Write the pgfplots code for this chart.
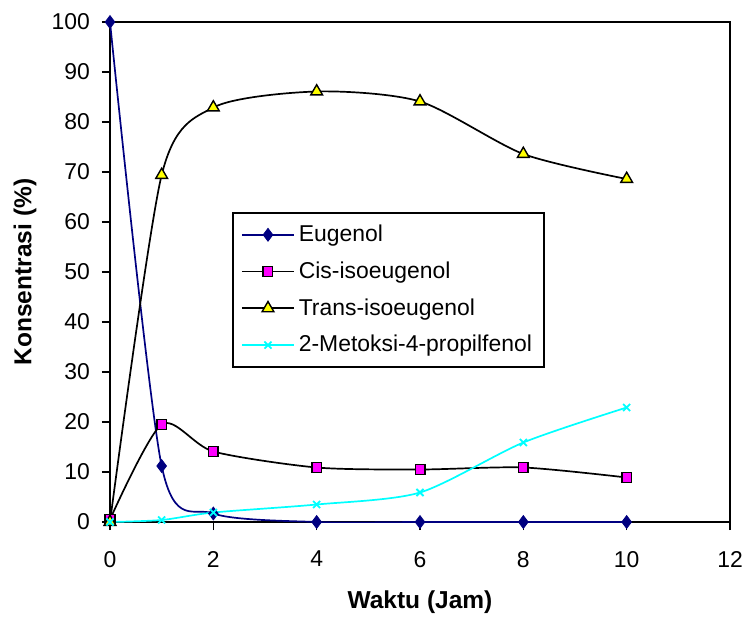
\documentclass[border=0pt]{standalone}
\usepackage{fontspec}
\setmainfont{Liberation Sans}
\usepackage{pgfplots}
\pgfplotsset{compat=1.18}

\definecolor{navyblue}{RGB}{0,0,128}
\definecolor{xlcyan}{RGB}{0,255,255}
\definecolor{xlmagenta}{RGB}{255,0,255}
\definecolor{xlyellow}{RGB}{255,255,0}

\begin{document}
\begin{tikzpicture}
\begin{axis}[
    width=310bp, height=250bp,
    scale only axis,
    xmin=0, xmax=12, ymin=0, ymax=100,
    xtick={0,2,...,12},
    ytick={0,10,...,100},
    tick align=outside,
    xtick pos=bottom, ytick pos=left,
    major tick length=4bp,
    axis line style={line width=1bp},
    every tick/.style={black, line width=0.7bp},
    /pgf/number format/assume math mode=true,
    tick label style={font=\fontsize{11.5}{13}\selectfont},
    xticklabel style={yshift=-7bp},
    yticklabel style={xshift=-2.5bp},
    xlabel={\textbf{Waktu (Jam)}},
    ylabel={\textbf{Konsentrasi (\%)}},
    label style={font=\fontsize{12.3}{14}\selectfont},
    xlabel style={at={(0.5,0)}, anchor=center, yshift=-40bp},
    ylabel style={at={(0,0.5)}, anchor=center, yshift=42.5bp},
    legend style={at={(0.197,0.62)}, anchor=north west,
        draw=black, line width=1bp,
        font=\fontsize{11.5}{13}\selectfont,
        inner xsep=4bp, inner ysep=4bp,
        row sep=4.6bp,
        cells={anchor=west}},
    legend image code/.code={%
        \draw[mark repeat=2,mark phase=2]
        plot coordinates {(0bp,0bp) (13bp,0bp) (26bp,0bp)};},
    every axis plot/.append style={line width=0.85bp, smooth, tension=0.45},
]
\addplot[navyblue, mark=diamond*, mark size=3.2bp,
    mark options={fill=navyblue, draw=navyblue, line width=0.4bp}]
coordinates {(0,100) (1,11.2) (2,1.7) (4,0) (6,0) (8,0) (10,0)};
\addlegendentry{Eugenol}

\addplot[black, mark=square*, mark size=2.4bp,
    mark options={fill=xlmagenta, draw=black, line width=0.7bp}]
coordinates {(0,0.5) (1,19.5) (2,14.1) (4,10.9) (6,10.5) (8,10.9) (10,8.9)};
\addlegendentry{Cis-isoeugenol}

\addplot[black, mark=triangle*, mark size=3.4bp,
    mark options={fill=xlyellow, draw=black, line width=0.7bp}]
coordinates {(0,0) (1,69.4) (2,82.9) (4,86.1) (6,84.1) (8,73.6) (10,68.6)};
\addlegendentry{Trans-isoeugenol}

\addplot[xlcyan, mark=x, mark size=2.5bp,
    mark options={draw=xlcyan, line width=0.9bp}]
coordinates {(0,0) (1,0.4) (2,1.9) (4,3.5) (6,5.9) (8,15.9) (10,22.9)};
\addlegendentry{2-Metoksi-4-propilfenol}
\end{axis}
\pgfresetboundingbox
\path ([shift={(-55bp,-47.5bp)}]current axis.south west)
    rectangle ([shift={(7.5bp,11bp)}]current axis.north east);
\end{tikzpicture}
\end{document}
